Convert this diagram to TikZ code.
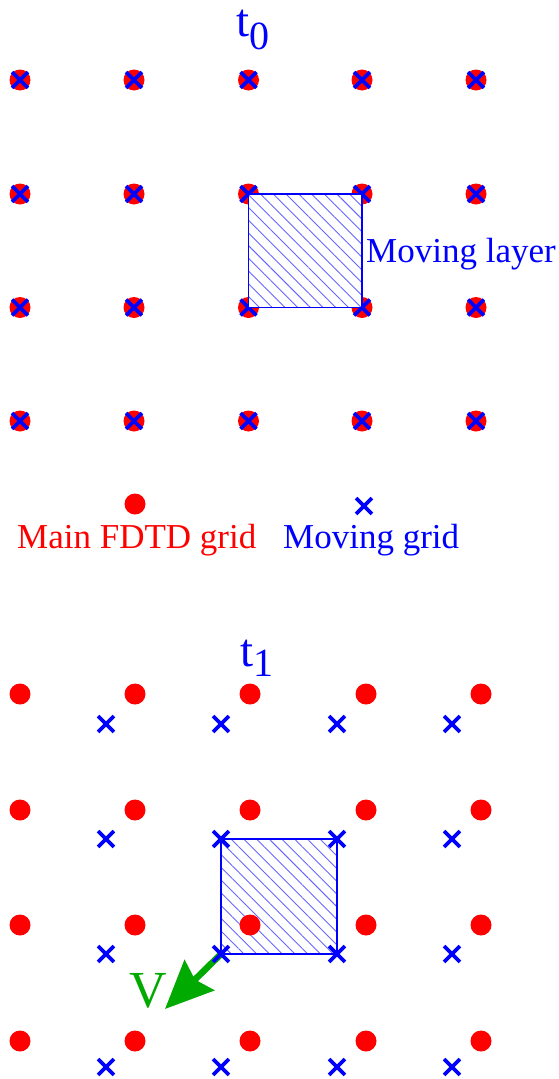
\documentclass[tikz,border=0pt]{standalone}
\usepackage{fontspec}
\setmainfont{Liberation Serif}
\usetikzlibrary{shapes.misc,patterns.meta,arrows.meta,backgrounds}
\definecolor{fdtdred}{RGB}{255,0,0}
\definecolor{movblue}{RGB}{0,0,255}
\definecolor{vgreen}{RGB}{0,170,0}
\tikzset{
  fdtddot/.style={circle,fill=fdtdred,inner sep=0pt,minimum size=21pt},
  movcross/.style={cross out,draw=movblue,line width=3.8pt,inner sep=0pt,minimum size=12pt},
  layerbox/.style={draw=movblue,line width=1.5pt,pattern={Lines[angle=-45,distance=9pt,line width=0.9pt]},pattern color=movblue!60},
  lbl/.style={font=\fontsize{35}{40}\selectfont,inner sep=0pt,anchor=base west},
  timelbl/.style={text=movblue,inner sep=0pt,anchor=base west,font=\fontsize{47}{50}\selectfont},
  vel/.style={draw=vgreen,line width=6.5pt,-{Stealth[length=48pt,width=42pt,inset=6pt]}}
}
\begin{document}
\begin{tikzpicture}[x=1pt,y=-1pt]
\useasboundingbox (0,0) rectangle (559,1079);
% ---------- t0 ----------
\node[timelbl] (t0) at (236,36) {t\raisebox{-13pt}{\fontsize{40}{40}\selectfont 0}};
\foreach \x [count=\i] in {20,134,248.5,362,476} {
  \foreach \y [count=\j] in {80,194,307.5,421} {
    \node[fdtddot] (d0-\i-\j) at (\x,\y) {};
    \node[movcross] (x0-\i-\j) at (\x,\y) {};
  }
}
\draw[layerbox,preaction={fill=white}] (x0-3-2.center) rectangle (x0-4-3.center);
\node[lbl,text=movblue] (layerlbl) at (366,262) {Moving layer};
% ---------- legend ----------
\node[fdtddot] (legdot) at (135,504) {};
\node[movcross] (legcross) at (364,506) {};
\node[lbl,text=fdtdred] (legmain) at (17,548) {Main FDTD grid};
\node[lbl,text=movblue] (legmov) at (283,548) {Moving grid};
% ---------- t1 ----------
\node[timelbl] (t1) at (240,666) {t\raisebox{-10pt}{\fontsize{40}{40}\selectfont 1}};
\foreach \x [count=\i] in {20,135,250,366,481} {
  \foreach \y [count=\j] in {694,810,925,1041} {
    \node[fdtddot] (d1-\i-\j) at (\x,\y) {};
  }
}
\foreach \x [count=\i] in {106,221,337,452} {
  \foreach \y [count=\j] in {724,839,954,1067} {
    \node[movcross] (x1-\i-\j) at (\x,\y) {};
  }
}
\coordinate (vtip) at (165,1009);
\begin{pgfonlayer}{background}
\draw[layerbox] (x1-2-2.center) rectangle (x1-3-3.center);
\draw[vel] (x1-2-3.center) -- (vtip);
\end{pgfonlayer}
\node[text=vgreen,inner sep=0pt,font=\fontsize{52}{56}\selectfont] (vlbl) at (148,991) {V};
\end{tikzpicture}
\end{document}
